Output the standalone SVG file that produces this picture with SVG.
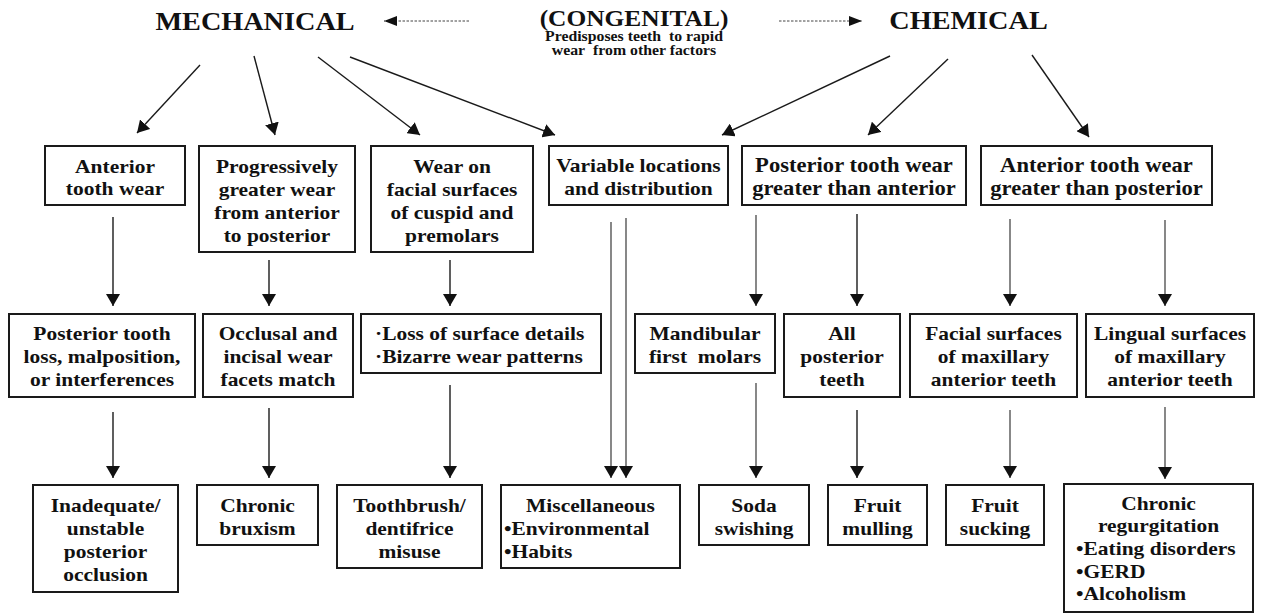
<svg xmlns="http://www.w3.org/2000/svg" width="1264" height="614" viewBox="0 0 1264 614">
<style>
.box{fill:#fff;stroke:#1a1a1a;stroke-width:2}
.t{font-family:"Liberation Serif","Times New Roman",serif;font-weight:bold;font-size:19px;fill:#111}
.b{font-size:20px}
.h{font-size:25px}
.c{font-size:22.5px}
.s{font-size:14px}
.ln{stroke:#1a1a1a;stroke-width:1.4;fill:none;marker-end:url(#ah)}
.lg{stroke:#555;stroke-width:1.4;fill:none;marker-end:url(#ah)}
.dash{stroke:#444;stroke-width:1;stroke-dasharray:2.5 1.5;fill:none;marker-end:url(#ahs)}
</style>
<defs>
<marker id="ah" markerUnits="userSpaceOnUse" viewBox="0 0 12 14" markerWidth="12" markerHeight="14" refX="12" refY="7" orient="auto">
<path d="M0,0 L12,7 L0,14 z" fill="#111"/>
</marker>
<marker id="ahs" markerUnits="userSpaceOnUse" viewBox="0 0 13 10" markerWidth="13" markerHeight="10" refX="13" refY="5" orient="auto">
<path d="M0,0 L13,5 L0,10 z" fill="#111"/>
</marker>
</defs>
<rect width="1264" height="614" fill="#fff"/>

<g id="connectors">
<line class="dash" x1="469" y1="21" x2="384" y2="21"/>
<line class="dash" x1="779" y1="21" x2="862" y2="21"/>
<line class="ln" x1="200" y1="65" x2="137" y2="133"/>
<line class="ln" x1="254" y1="56" x2="275" y2="135"/>
<line class="ln" x1="318" y1="57" x2="420" y2="135"/>
<line class="ln" x1="350" y1="57" x2="555" y2="135"/>
<line class="ln" x1="890" y1="56" x2="722" y2="135"/>
<line class="ln" x1="948" y1="59" x2="868" y2="135"/>
<line class="ln" x1="1032" y1="55" x2="1089" y2="137"/>
<line class="ln" x1="113" y1="217" x2="113" y2="306"/>
<line class="ln" x1="269" y1="260" x2="269" y2="306"/>
<line class="ln" x1="450" y1="260" x2="450" y2="306"/>
<line class="lg" x1="756" y1="215" x2="756" y2="306"/>
<line class="ln" x1="857" y1="214" x2="857" y2="306"/>
<line class="lg" x1="1010" y1="219" x2="1010" y2="306"/>
<line class="lg" x1="1165" y1="220" x2="1165" y2="306"/>
<line class="lg" x1="611" y1="222" x2="611" y2="478"/>
<line class="lg" x1="626" y1="218" x2="626" y2="478"/>
<line class="ln" x1="113" y1="412" x2="113" y2="478"/>
<line class="ln" x1="269" y1="408" x2="269" y2="478"/>
<line class="ln" x1="450" y1="385" x2="450" y2="478"/>
<line class="lg" x1="756" y1="383" x2="756" y2="478"/>
<line class="ln" x1="857" y1="410" x2="857" y2="478"/>
<line class="lg" x1="1010" y1="410" x2="1010" y2="478"/>
<line class="lg" x1="1165" y1="407" x2="1165" y2="479"/>
</g>

<g id="mechanical">
<text class="t h" text-anchor="middle" transform="translate(255 0) scale(1.13 1)"><tspan x="0" y="30">MECHANICAL</tspan></text>
</g>
<g id="congenital">
<text class="t c" text-anchor="middle" transform="translate(634 0) scale(1.13 1)"><tspan x="0" y="26">(CONGENITAL)</tspan></text>
<text class="t s" text-anchor="middle" transform="translate(634 0) scale(1.13 1)"><tspan x="0" y="41">Predisposes teeth&#160; to rapid</tspan><tspan x="0" y="55">wear&#160; from other factors</tspan></text>
</g>
<g id="chemical">
<text class="t h" text-anchor="middle" transform="translate(968.5 0) scale(1.13 1)"><tspan x="0" y="29">CHEMICAL</tspan></text>
</g>

<g id="anterior-tooth-wear">
<rect class="box" x="45" y="146" width="140" height="59"/>
<text class="t" text-anchor="middle" transform="translate(115 0) scale(1.13 1)"><tspan x="0" y="173">Anterior</tspan><tspan x="0" y="195">tooth wear</tspan></text>
</g>
<g id="progressively">
<rect class="box" x="199" y="146" width="156" height="106"/>
<text class="t" text-anchor="middle" transform="translate(277 0) scale(1.13 1)"><tspan x="0" y="173">Progressively</tspan><tspan x="0" y="196">greater wear</tspan><tspan x="0" y="219">from anterior</tspan><tspan x="0" y="242">to posterior</tspan></text>
</g>
<g id="wear-facial">
<rect class="box" x="371" y="146" width="162" height="106"/>
<text class="t" text-anchor="middle" transform="translate(452 0) scale(1.13 1)"><tspan x="0" y="173">Wear on</tspan><tspan x="0" y="196">facial surfaces</tspan><tspan x="0" y="219">of cuspid and</tspan><tspan x="0" y="242">premolars</tspan></text>
</g>
<g id="variable">
<rect class="box" x="549" y="146" width="179" height="59"/>
<text class="t" text-anchor="middle" transform="translate(638.5 0) scale(1.13 1)"><tspan x="0" y="172">Variable locations</tspan><tspan x="0" y="195">and distribution</tspan></text>
</g>
<g id="posterior-greater">
<rect class="box" x="742" y="146" width="224" height="59"/>
<text class="t b" text-anchor="middle" transform="translate(854 0) scale(1.13 1)"><tspan x="0" y="172">Posterior tooth wear</tspan><tspan x="0" y="195">greater than anterior</tspan></text>
</g>
<g id="anterior-greater">
<rect class="box" x="981" y="146" width="231" height="59"/>
<text class="t b" text-anchor="middle" transform="translate(1096.5 0) scale(1.13 1)"><tspan x="0" y="172">Anterior tooth wear</tspan><tspan x="0" y="195">greater than posterior</tspan></text>
</g>

<g id="posterior-loss">
<rect class="box" x="9" y="314" width="186" height="83"/>
<text class="t" text-anchor="middle" transform="translate(102 0) scale(1.13 1)"><tspan x="0" y="340">Posterior tooth</tspan><tspan x="0" y="363">loss, malposition,</tspan><tspan x="0" y="386">or interferences</tspan></text>
</g>
<g id="occlusal-incisal">
<rect class="box" x="203" y="314" width="150" height="83"/>
<text class="t" text-anchor="middle" transform="translate(278 0) scale(1.13 1)"><tspan x="0" y="340">Occlusal and</tspan><tspan x="0" y="363">incisal wear</tspan><tspan x="0" y="386">facets match</tspan></text>
</g>
<g id="loss-surface">
<rect class="box" x="361" y="314" width="240" height="59"/>
<text class="t" transform="translate(375 0) scale(1.13 1)"><tspan x="0" y="340">·Loss of surface details</tspan><tspan x="0" y="363">·Bizarre wear patterns</tspan></text>
</g>
<g id="mandibular">
<rect class="box" x="635" y="314" width="140" height="59"/>
<text class="t" text-anchor="middle" transform="translate(705 0) scale(1.13 1)"><tspan x="0" y="340">Mandibular</tspan><tspan x="0" y="363">first&#160; molars</tspan></text>
</g>
<g id="all-posterior">
<rect class="box" x="784" y="314" width="116" height="83"/>
<text class="t" text-anchor="middle" transform="translate(842 0) scale(1.13 1)"><tspan x="0" y="340">All</tspan><tspan x="0" y="363">posterior</tspan><tspan x="0" y="386">teeth</tspan></text>
</g>
<g id="facial-maxillary">
<rect class="box" x="910" y="314" width="167" height="83"/>
<text class="t" text-anchor="middle" transform="translate(993.5 0) scale(1.13 1)"><tspan x="0" y="340">Facial surfaces</tspan><tspan x="0" y="363">of maxillary</tspan><tspan x="0" y="386">anterior teeth</tspan></text>
</g>
<g id="lingual-maxillary">
<rect class="box" x="1086" y="314" width="168" height="83"/>
<text class="t" text-anchor="middle" transform="translate(1170 0) scale(1.13 1)"><tspan x="0" y="340">Lingual surfaces</tspan><tspan x="0" y="363">of maxillary</tspan><tspan x="0" y="386">anterior teeth</tspan></text>
</g>

<g id="inadequate">
<rect class="box" x="33" y="485" width="145" height="107"/>
<text class="t" text-anchor="middle" transform="translate(105.5 0) scale(1.13 1)"><tspan x="0" y="512">Inadequate/</tspan><tspan x="0" y="535">unstable</tspan><tspan x="0" y="558">posterior</tspan><tspan x="0" y="581">occlusion</tspan></text>
</g>
<g id="bruxism">
<rect class="box" x="197" y="485" width="121" height="60"/>
<text class="t" text-anchor="middle" transform="translate(257.5 0) scale(1.13 1)"><tspan x="0" y="512">Chronic</tspan><tspan x="0" y="535">bruxism</tspan></text>
</g>
<g id="toothbrush">
<rect class="box" x="337" y="485" width="145" height="83"/>
<text class="t" text-anchor="middle" transform="translate(409.5 0) scale(1.13 1)"><tspan x="0" y="512">Toothbrush/</tspan><tspan x="0" y="535">dentifrice</tspan><tspan x="0" y="558">misuse</tspan></text>
</g>
<g id="miscellaneous">
<rect class="box" x="501" y="485" width="179" height="83"/>
<text class="t" text-anchor="middle" transform="translate(590.5 0) scale(1.13 1)"><tspan x="0" y="512">Miscellaneous</tspan></text>
<text class="t" transform="translate(504 0) scale(1.13 1)"><tspan x="0" y="535">•Environmental</tspan><tspan x="0" y="558">•Habits</tspan></text>
</g>
<g id="soda">
<rect class="box" x="699" y="485" width="110" height="60"/>
<text class="t" text-anchor="middle" transform="translate(754 0) scale(1.13 1)"><tspan x="0" y="512">Soda</tspan><tspan x="0" y="535">swishing</tspan></text>
</g>
<g id="fruit-mulling">
<rect class="box" x="828" y="485" width="99" height="60"/>
<text class="t" text-anchor="middle" transform="translate(877.5 0) scale(1.13 1)"><tspan x="0" y="512">Fruit</tspan><tspan x="0" y="535">mulling</tspan></text>
</g>
<g id="fruit-sucking">
<rect class="box" x="946" y="485" width="98" height="60"/>
<text class="t" text-anchor="middle" transform="translate(995 0) scale(1.13 1)"><tspan x="0" y="512">Fruit</tspan><tspan x="0" y="535">sucking</tspan></text>
</g>
<g id="regurgitation">
<rect class="box" x="1064" y="484" width="189" height="128"/>
<text class="t" text-anchor="middle" transform="translate(1158.5 0) scale(1.13 1)"><tspan x="0" y="510">Chronic</tspan><tspan x="0" y="532">regurgitation</tspan></text>
<text class="t" transform="translate(1076 0) scale(1.13 1)"><tspan x="0" y="555">•Eating disorders</tspan><tspan x="0" y="578">•GERD</tspan><tspan x="0" y="600">•Alcoholism</tspan></text>
</g>
</svg>
